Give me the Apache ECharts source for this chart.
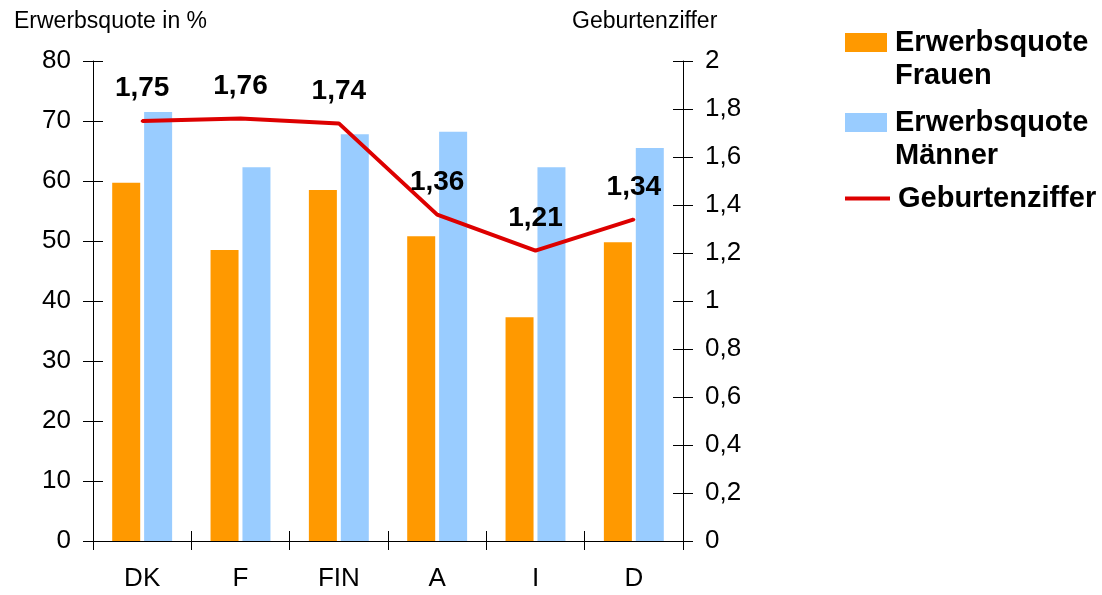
<!DOCTYPE html>
<html>
<head>
<meta charset="utf-8">
<script src="https://cdn.jsdelivr.net/npm/echarts@6/dist/echarts.min.js"></script>
<style>
  html, body { margin: 0; padding: 0; background: #fff; }
  #chart { width: 1102px; height: 595px; }
</style>
</head>
<body>
<div id="chart"></div>
<script>
// Länder
const laender = ['DK', 'F', 'FIN', 'A', 'I', 'D'];
// Erwerbsquote in %
const quoteFrauen = [59.7, 48.5, 58.5, 50.8, 37.3, 49.8];
const quoteMaenner = [71.5, 62.3, 67.8, 68.2, 62.3, 65.5];
// Geburtenziffer
const geburtenziffer = [1.75, 1.76, 1.74, 1.36, 1.21, 1.34];

const FONT = '"Liberation Sans", Arial, sans-serif';
const komma = (v) => String(+(+v).toFixed(2)).replace('.', ',');

const chart = echarts.init(document.getElementById('chart'));

// versteckte Achsen nur für die nach innen zeigenden Striche
const tickInside = (pos, min, max, interval) => ({
    type: 'value', position: pos, min: min, max: max, interval: interval,
    axisLine: { show: false },
    axisLabel: { show: false },
    splitLine: { show: false },
    axisTick: { show: true, inside: true, length: 10, lineStyle: { color: '#000' } }
});

const legendBase = {
    orient: 'vertical',
    left: 845,
    padding: 0,
    itemWidth: 42,
    itemHeight: 19,
    icon: 'rect',
    selectedMode: false,
    // leere erste Zeile, damit das Symbol auf Höhe der ersten Textzeile sitzt
    formatter: (name) => '\n' + name,
    textStyle: {
        fontFamily: FONT, fontSize: 29, fontWeight: 'bold', color: '#000',
        lineHeight: 33, padding: [0, 0, 0, 3]
    }
};

chart.setOption({
    animation: false,
    title: [
        { text: 'Erwerbsquote in %', left: 9, top: 5,
          textStyle: { fontFamily: FONT, fontSize: 23, fontWeight: 'normal', color: '#000' } },
        { text: 'Geburtenziffer', left: 567, top: 5,
          textStyle: { fontFamily: FONT, fontSize: 23, fontWeight: 'normal', color: '#000' } }
    ],
    legend: [
        Object.assign({}, legendBase, { top: -7, data: ['Erwerbsquote\nFrauen'] }),
        Object.assign({}, legendBase, { top: 73, data: ['Erwerbsquote\nMänner'] }),
        Object.assign({}, legendBase, {
            top: 182, itemWidth: 45, itemHeight: 4,
            formatter: (name) => name,
            data: ['Geburtenziffer']
        })
    ],
    grid: { left: 93, right: 419, top: 61, bottom: 54 },
    xAxis: [
        {
            type: 'category', data: laender, position: 'bottom',
            axisLine: { lineStyle: { color: '#000', width: 1 } },
            axisTick: { show: true, length: 9, lineStyle: { color: '#000' } },
            axisLabel: { fontFamily: FONT, fontSize: 26, color: '#000', margin: 25 }
        },
        {
            type: 'category', data: laender, position: 'bottom',
            axisLine: { show: false },
            axisLabel: { show: false },
            axisTick: { show: true, inside: true, length: 10, lineStyle: { color: '#000' } }
        }
    ],
    yAxis: [
        {
            type: 'value', position: 'left', min: 0, max: 80, interval: 10,
            axisLine: { show: true, lineStyle: { color: '#000' } },
            axisTick: { show: true, length: 10, lineStyle: { color: '#000' } },
            axisLabel: { fontFamily: FONT, fontSize: 26, color: '#000', margin: 22 },
            splitLine: { show: false }
        },
        {
            type: 'value', position: 'right', min: 0, max: 2, interval: 0.2,
            axisLine: { show: true, lineStyle: { color: '#000' } },
            axisTick: { show: true, length: 10, lineStyle: { color: '#000' } },
            axisLabel: { fontFamily: FONT, fontSize: 26, color: '#000', margin: 22, formatter: komma },
            splitLine: { show: false }
        },
        tickInside('left', 0, 80, 10),
        tickInside('right', 0, 2, 0.2)
    ],
    series: [
        {
            name: 'Erwerbsquote\nFrauen', type: 'bar', data: quoteFrauen,
            barWidth: 28, barGap: '14%',
            itemStyle: { color: '#FF9900' }
        },
        {
            name: 'Erwerbsquote\nMänner', type: 'bar', data: quoteMaenner,
            barWidth: 28,
            itemStyle: { color: '#99CCFF' }
        },
        {
            name: 'Geburtenziffer', type: 'line', yAxisIndex: 1, data: geburtenziffer,
            symbol: 'circle', symbolSize: 3,
            itemStyle: { color: '#DD0000' },
            lineStyle: { color: '#DD0000', width: 4 },
            label: {
                show: true, position: 'top', distance: 17,
                fontFamily: FONT, fontSize: 28, fontWeight: 'bold', color: '#000',
                formatter: (p) => komma(p.value)
            },
            z: 5
        }
    ]
});
</script>
</body>
</html>
